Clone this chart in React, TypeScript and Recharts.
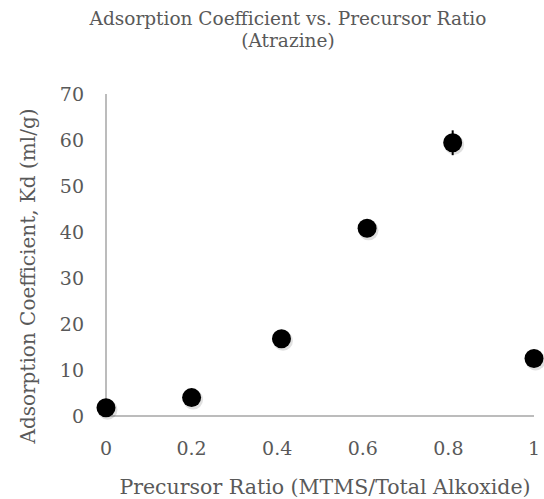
import React from 'react';
import { ScatterChart, Scatter, XAxis, YAxis, ErrorBar } from 'recharts';

// precursor ratio (MTMS / total alkoxide)
const ratios = [0, 0.2, 0.41, 0.61, 0.81, 1];
// Kd values in ml/g
const kdValues = [1.8, 4, 16.8, 40.8, 59.4, 12.5];
// standard deviations (only the 0.8 point has a visible bar)
const kdErrors = [0, 0, 0, 0, 2.7, 0];

const xTicks = [0, 0.2, 0.4, 0.6, 0.8, 1];
const yTicks = [0, 10, 20, 30, 40, 50, 60, 70];

const FONT = '"DejaVu Serif", serif';
const TEXT_COLOR = '#595959';
const AXIS_COLOR = '#a6a6a6';

const points = ratios.map((r, i) => ({
  ratio: r,
  kd: kdValues[i],
  err: kdErrors[i],
}));

const Dot = (props: any) => {
  const { cx, cy } = props;
  return (
    <g>
      <circle cx={cx + 1.5} cy={cy + 2} r={10} fill="#000" opacity={0.12} />
      <circle cx={cx} cy={cy} r={9.5} fill="#000" />
    </g>
  );
};

export default function App() {
  return (
    <div
      style={{
        position: 'absolute',
        left: 0,
        top: 0,
        width: 544,
        height: 499,
        overflow: 'hidden',
        background: '#fff',
        fontFamily: FONT,
        color: TEXT_COLOR,
      }}
    >
      <ScatterChart
        width={544}
        height={499}
        margin={{ top: 94, right: 10, bottom: 0, left: 0 }}
      >
        <XAxis
          type="number"
          dataKey="ratio"
          domain={[0, 1]}
          ticks={xTicks}
          tickFormatter={(v: number) => String(v)}
          height={83}
          tickLine={false}
          tickSize={0}
          tickMargin={26}
          stroke={AXIS_COLOR}
          strokeWidth={1.5}
          tick={{ fill: TEXT_COLOR, fontSize: 19, fontFamily: FONT }}
          interval={0}
        />
        <YAxis
          type="number"
          dataKey="kd"
          domain={[0, 70]}
          ticks={yTicks}
          width={106}
          tickLine={false}
          tickSize={0}
          tickMargin={22}
          stroke={AXIS_COLOR}
          strokeWidth={1.5}
          tick={{ fill: TEXT_COLOR, fontSize: 19, fontFamily: FONT }}
          interval={0}
        />
        <Scatter data={points} shape={<Dot />} isAnimationActive={false}>
          <ErrorBar
            dataKey="err"
            direction="y"
            width={0}
            stroke="#000"
            strokeWidth={2}
            isAnimationActive={false}
          />
        </Scatter>
      </ScatterChart>

      <div
        style={{
          position: 'absolute',
          left: 0,
          width: 576,
          top: 8,
          textAlign: 'center',
          fontSize: 18.5,
          lineHeight: '22px',
          whiteSpace: 'nowrap',
        }}
      >
        Adsorption Coefficient vs. Precursor Ratio
        <br />
        (Atrazine)
      </div>

      <div
        style={{
          position: 'absolute',
          left: 325,
          top: 487,
          transform: 'translate(-50%, -50%)',
          fontSize: 20.5,
          lineHeight: '20px',
          whiteSpace: 'nowrap',
        }}
      >
        Precursor Ratio (MTMS/Total Alkoxide)
      </div>

      <div
        style={{
          position: 'absolute',
          left: 28,
          top: 276,
          transform: 'translate(-50%, -50%) rotate(-90deg)',
          fontSize: 20,
          lineHeight: '22px',
          whiteSpace: 'nowrap',
        }}
      >
        Adsorption Coefficient, Kd (ml/g)
      </div>
    </div>
  );
}
